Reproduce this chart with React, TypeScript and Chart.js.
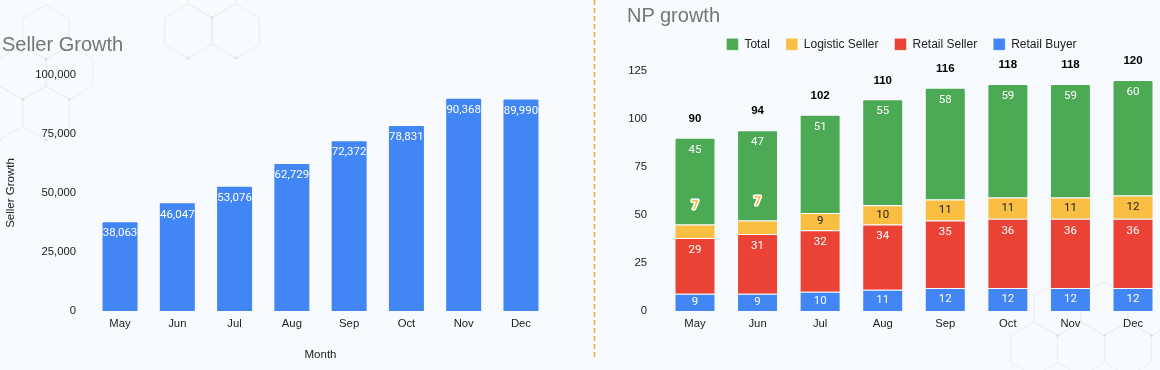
import React, { useEffect, useRef } from "react";
import { Chart, registerables } from "chart.js";

Chart.register(...registerables);

// ---------- data ----------
const months = ["May", "Jun", "Jul", "Aug", "Sep", "Oct", "Nov", "Dec"];
const sellerGrowth = [38063, 46047, 53076, 62729, 72372, 78831, 90368, 89990];
const sellerTicks = [0, 25000, 50000, 75000, 100000];

const retailBuyer = [9, 9, 10, 11, 12, 12, 12, 12];
const retailSeller = [29, 31, 32, 34, 35, 36, 36, 36];
const logisticSeller = [7, 7, 9, 10, 11, 11, 11, 12];
const totalSeg = [45, 47, 51, 55, 58, 59, 59, 60];
const npTicks = [0, 25, 50, 75, 100, 125];

// ---------- styles ----------
const FONT = "'Liberation Sans', Arial, Helvetica, sans-serif";
const LABEL_FONT = "Roboto, 'Liberation Sans', Arial, sans-serif";
const BLUE = "#4285F4";
const RED = "#EA4335";
const YELLOW = "#F9BE42";
const GREEN = "#4CAA55";
const TEXT = "#222222";

const fmt = (v: number) => Number(v).toLocaleString("en-US");

const insideLabels = {
  id: "insideLabels",
  afterDatasetsDraw(chart: any, _args: any, opts: any) {
    const ctx = chart.ctx;
    ctx.save();
    ctx.textAlign = "center";
    ctx.textBaseline = "middle";
    chart.data.datasets.forEach((ds: any, di: number) => {
      const meta = chart.getDatasetMeta(di);
      if (meta.hidden || meta.type !== "bar") return;
      meta.data.forEach((el: any, i: number) => {
        const v = ds.data[i];
        const top = Math.min(el.y, el.base);
        const h = Math.abs(el.base - el.y);
        const text = opts.commas ? fmt(v) : String(v);
        if (h >= opts.minHeight) {
          ctx.font = `${opts.size}px ${LABEL_FONT}`;
          ctx.fillStyle = ds.labelColor || "#ffffff";
          ctx.fillText(text, el.x, top + Math.min(opts.offset, h / 2));
        } else {
          ctx.font = `bold ${opts.size + 1}px ${LABEL_FONT}`;
          ctx.lineWidth = 3;
          ctx.lineJoin = "round";
          ctx.strokeStyle = "#ffffff";
          const y = top - opts.outside;
          ctx.strokeText(text, el.x, y);
          ctx.fillStyle = ds.backgroundColor;
          ctx.fillText(text, el.x, y);
        }
      });
    });
    ctx.restore();
  },
};

const totalsPlugin = {
  id: "totals",
  afterDatasetsDraw(chart: any, _args: any, opts: any) {
    if (!opts || !opts.enabled) return;
    const ctx = chart.ctx;
    const dsets = chart.data.datasets;
    const meta = chart.getDatasetMeta(dsets.length - 1);
    ctx.save();
    ctx.textAlign = "center";
    ctx.textBaseline = "middle";
    ctx.font = `bold 11.5px ${FONT}`;
    ctx.fillStyle = "#000000";
    meta.data.forEach((el: any, i: number) => {
      const sum = dsets.reduce((s: number, d: any) => s + Number(d.data[i]), 0);
      ctx.fillText(String(sum), el.x, el.y - 19);
    });
    ctx.restore();
  },
};

function makeLeftConfig(): any {
  return {
    type: "bar",
    data: {
      labels: months,
      datasets: [
        {
          label: "Seller Growth",
          data: sellerGrowth,
          backgroundColor: BLUE,
          borderColor: "rgba(255,255,255,0.35)",
          borderWidth: 1,
          borderRadius: 2,
          borderSkipped: "bottom",
          categoryPercentage: 1,
          barPercentage: 0.646,
        },
      ],
    },
    plugins: [insideLabels],
    options: {
      animation: false,
      responsive: false,
      devicePixelRatio: 1,
      layout: { padding: { top: 75, left: 0, right: 40.4, bottom: 0 } },
      plugins: {
        legend: { display: false },
        tooltip: { enabled: false },
        insideLabels: { size: 11.5, offset: 12.3, minHeight: 15, outside: 19, commas: true },
      },
      scales: {
        x: {
          grid: { display: false, drawTicks: false },
          border: { display: false },
          ticks: { color: TEXT, font: { family: FONT, size: 11.3 }, padding: 6 },
          title: {
            display: true,
            text: "Month",
            color: TEXT,
            font: { family: FONT, size: 11.5 },
            padding: { top: 0, bottom: 8 },
          },
          afterFit: (s: any) => {
            s.height = 59;
          },
        },
        y: {
          min: sellerTicks[0],
          max: sellerTicks[sellerTicks.length - 1],
          afterBuildTicks: (s: any) => {
            s.ticks = sellerTicks.map((v) => ({ value: v }));
          },
          grid: { display: false, drawTicks: false },
          border: { display: false },
          ticks: {
            color: TEXT,
            font: { family: FONT, size: 11.3 },
            padding: 15.4,
            callback: (v: any) => fmt(v),
          },
          title: {
            display: true,
            text: "Seller Growth",
            color: TEXT,
            font: { family: FONT, size: 11.5 },
            padding: { top: 4, bottom: 0 },
          },
          afterFit: (s: any) => {
            s.width = 91.4;
          },
        },
      },
    },
  };
}

function makeRightConfig(): any {
  const common = { categoryPercentage: 1, barPercentage: 0.655, borderWidth: 1, borderColor: "rgba(255,255,255,0.45)" };
  return {
    type: "bar",
    data: {
      labels: months,
      datasets: [
        { label: "Retail Buyer", data: retailBuyer, backgroundColor: BLUE, labelColor: "#ffffff", ...common },
        { label: "Retail Seller", data: retailSeller, backgroundColor: RED, labelColor: "#ffffff", ...common },
        { label: "Logistic Seller", data: logisticSeller, backgroundColor: YELLOW, labelColor: "#222222", ...common },
        {
          label: "Total",
          data: totalSeg,
          backgroundColor: GREEN,
          labelColor: "#ffffff",
          ...common,
          borderRadius: 2,
          borderSkipped: "bottom",
        },
      ],
    },
    plugins: [insideLabels, totalsPlugin],
    options: {
      animation: false,
      responsive: false,
      devicePixelRatio: 1,
      layout: { padding: { top: 22.35, left: 28.7, right: 5.7, bottom: 0 } },
      plugins: {
        legend: {
          display: true,
          position: "top",
          reverse: true,
          labels: {
            boxWidth: 12,
            boxHeight: 12,
            padding: 16,
            color: TEXT,
            font: { family: FONT, size: 12 },
          },
        },
        subtitle: {
          display: true,
          text: "",
          weight: 500,
          font: { size: 1 },
          padding: { top: 0, bottom: 8.95 },
        },
        tooltip: { enabled: false },
        insideLabels: { size: 11.5, offset: 12, minHeight: 15, outside: 18.7, commas: false },
        totals: { enabled: true },
      },
      scales: {
        x: {
          stacked: true,
          grid: { display: false, drawTicks: false },
          border: { display: false },
          ticks: { color: TEXT, font: { family: FONT, size: 11.3 }, padding: 6 },
          afterFit: (s: any) => {
            s.height = 59;
          },
        },
        y: {
          stacked: true,
          min: npTicks[0],
          max: npTicks[npTicks.length - 1],
          afterBuildTicks: (s: any) => {
            s.ticks = npTicks.map((v) => ({ value: v }));
          },
          grid: { display: false, drawTicks: false },
          border: { display: false },
          ticks: { color: TEXT, font: { family: FONT, size: 11.3 }, padding: 16.7 },
          afterFit: (s: any) => {
            s.width = 45;
          },
        },
        yPad: {
          type: "linear",
          axis: "y",
          position: "right",
          display: true,
          grid: { display: false, drawTicks: false },
          border: { display: false },
          ticks: { display: false },
          afterFit: (s: any) => {
            s.width = 20;
          },
        },
      },
    },
  };
}

function ChartCanvas({ make, left, width, height }: { make: () => any; left: number; width: number; height: number }) {
  const ref = useRef<HTMLCanvasElement | null>(null);
  useEffect(() => {
    if (!ref.current) return;
    const chart = new Chart(ref.current, make());
    return () => chart.destroy();
  }, [make]);
  return (
    <canvas
      ref={ref}
      width={width}
      height={height}
      style={{ position: "absolute", left, top: 0, width, height, display: "block" }}
    />
  );
}

// faint honeycomb decoration (background only)
const hexCenters: [number, number][] = [
  [46, 32], [22.6, 72.5], [69.4, 72.5], [46, 113], [-0.8, 113],
  [188, 31], [236, 31], [212, -9.5],
  [1034, 349], [1081, 349], [1128, 349], [1057.5, 308.5], [1104.5, 308.5], [1151.5, 308.5],
];
function hexPoints(cx: number, cy: number, r: number) {
  const pts: string[] = [];
  for (let k = 0; k < 6; k++) {
    const a = (Math.PI / 3) * k - Math.PI / 2;
    pts.push(`${(cx + r * Math.cos(a)).toFixed(1)},${(cy + r * Math.sin(a)).toFixed(1)}`);
  }
  return pts.join(" ");
}

export default function App() {
  return (
    <div
      style={{
        position: "fixed",
        left: 0,
        top: 0,
        width: 1160,
        height: 370,
        overflow: "hidden",
        background: "#F7FAFF",
        fontFamily: FONT,
      }}
    >
      <svg style={{ position: "absolute", left: 0, top: 0 }} width={1160} height={370}>
        {hexCenters.map(([cx, cy], i) => (
          <polygon key={i} points={hexPoints(cx, cy, 27)} fill="none" stroke="#EBEEF3" strokeWidth={1} />
        ))}
        {hexCenters.map(([cx, cy], i) => (
          <circle key={"d" + i} cx={cx} cy={cy + 27} r={1.5} fill="#DDE0E6" />
        ))}
      </svg>
      <ChartCanvas make={makeLeftConfig} left={0} width={590} height={370} />
      <ChartCanvas make={makeRightConfig} left={590} width={600} height={370} />
      <div
        style={{ position: "absolute", left: 2, top: 32, fontSize: 20, lineHeight: "24px", color: "#757575", whiteSpace: "nowrap" }}
      >
        Seller Growth
      </div>
      <div
        style={{ position: "absolute", left: 627, top: 3, fontSize: 20, lineHeight: "24px", color: "#757575", whiteSpace: "nowrap" }}
      >
        NP growth
      </div>
      <svg style={{ position: "absolute", left: 592, top: 0 }} width={5} height={362}>
        <line x1={2.5} y1={0} x2={2.5} y2={360} stroke="#F9A825" strokeWidth={1.5} strokeDasharray="5 3" />
      </svg>
    </div>
  );
}
